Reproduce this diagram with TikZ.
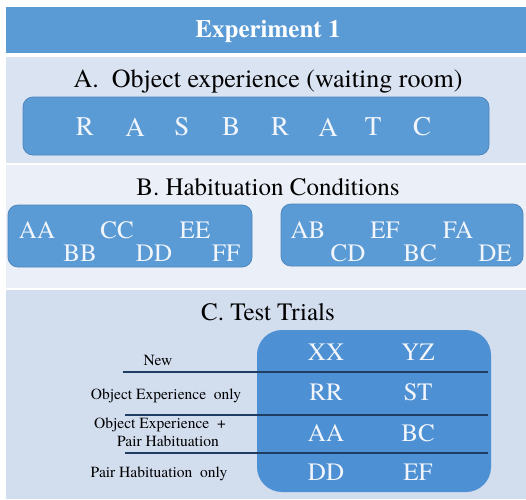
\documentclass[tikz,border=0pt]{standalone}
\usepackage{fontspec}
\setmainfont{texgyretermes}[Extension=.otf, UprightFont=*-regular, BoldFont=*-bold, ItalicFont=*-italic, BoldItalicFont=*-bolditalic]
\definecolor{hdr}{HTML}{5B9BD5}
\definecolor{bandA}{HTML}{DAE3F1}
\definecolor{bandB}{HTML}{EBEFF7}
\definecolor{bandC}{HTML}{D2DDEE}
\definecolor{boxfill}{HTML}{5B9BD5}
\definecolor{boxline}{HTML}{4F86BE}
\definecolor{boxC}{HTML}{4E90D4}
\definecolor{rowline}{HTML}{1F3D62}
\definecolor{ltxt}{HTML}{F2F6FB}
\tikzset{
  title/.style={font=\fontsize{25}{28}\selectfont, text=black, inner sep=0pt},
  lettbox/.style={rounded corners=10pt, fill=boxfill, draw=boxline, line width=0.8pt},
  bigl/.style={font=\fontsize{27}{28}\selectfont, text=ltxt, inner sep=0pt},
  midl/.style={font=\fontsize{25}{28}\selectfont, text=ltxt, inner sep=0pt},
  smalll/.style={font=\fontsize{15.5}{16}\selectfont, text=black, inner sep=0pt},
  sep/.style={draw=rowline, line width=1.8pt}
}
\begin{document}
\begin{tikzpicture}[x=1pt,y=-1pt]
\useasboundingbox (0,0) rectangle (526,499);
\fill[white] (0,0) rectangle (526,499);
% bands
\fill[hdr] (6,7) rectangle (526,53);
\fill[bandA] (6,57) rectangle (526,163);
\fill[bandB] (6,165) rectangle (526,288);
\fill[bandC] (6,290) rectangle (526,499);
\node[font=\fontsize{25}{26}\selectfont\bfseries, text=white, inner sep=0pt] (head) at (268,31) {Experiment 1};
% Section A
\node[title, font=\fontsize{26}{28}\selectfont] (ta) at (268,81) {A.\ \ Object experience (waiting room)};
\draw[lettbox] (23,97) rectangle (489,155);
\node[bigl] (a1) at (85,127) {R};
\node[bigl] (a2) at (135,127) {A};
\node[bigl] (a3) at (182,127) {S};
\node[bigl] (a4) at (231,127) {B};
\node[bigl] (a5) at (280,127) {R};
\node[bigl] (a6) at (328,127) {A};
\node[bigl] (a7) at (373,127) {T};
\node[bigl] (a8) at (422,127) {C};
% Section B
\node[title] (tb) at (268,187) {B. Habituation Conditions};
\draw[lettbox] (8,205) rectangle (252,267);
\draw[lettbox] (281,204) rectangle (523,266);
\node[midl] (b1) at (37,230) {AA};
\node[midl] (b2) at (80,253) {BB};
\node[midl] (b3) at (117,230) {CC};
\node[midl] (b4) at (154,253) {DD};
\node[midl] (b5) at (195,230) {EE};
\node[midl] (b6) at (226,253) {FF};
\node[midl] (c1) at (308,230) {AB};
\node[midl] (c2) at (348,253) {CD};
\node[midl] (c3) at (385,230) {EF};
\node[midl] (c4) at (420,253) {BC};
\node[midl] (c5) at (458,230) {FA};
\node[midl] (c6) at (495,253) {DE};
% Section C
\node[title] (tc) at (268,312) {C. Test Trials};
\fill[boxC, rounded corners=25pt] (257,330) rectangle (491,492);
\draw[sep] (123,372) -- (488,372);
\draw[sep] (125,415) -- (488,415);
\draw[sep] (125,453) -- (488,453);
\node[midl] (x1) at (326,352) {XX};
\node[midl] (x2) at (418,352) {YZ};
\node[midl] (r1) at (326,392) {RR};
\node[midl] (r2) at (418,392) {ST};
\node[midl] (p1) at (326,433) {AA};
\node[midl] (p2) at (418,433) {BC};
\node[midl] (d1) at (326,472) {DD};
\node[midl] (d2) at (418,472) {EF};
\node[smalll, anchor=base] (l1) at (158,365) {New};
\node[smalll, anchor=base] (l2) at (166,399) {Object Experience\ \ only};
\node[smalll, anchor=base] (l3) at (160,428) {Object Experience\ \ +};
\node[smalll, anchor=base] (l3b) at (168,446) {Pair Habituation};
\node[smalll, anchor=base] (l4) at (159,477) {Pair Habituation\ \ only};
\end{tikzpicture}
\end{document}
